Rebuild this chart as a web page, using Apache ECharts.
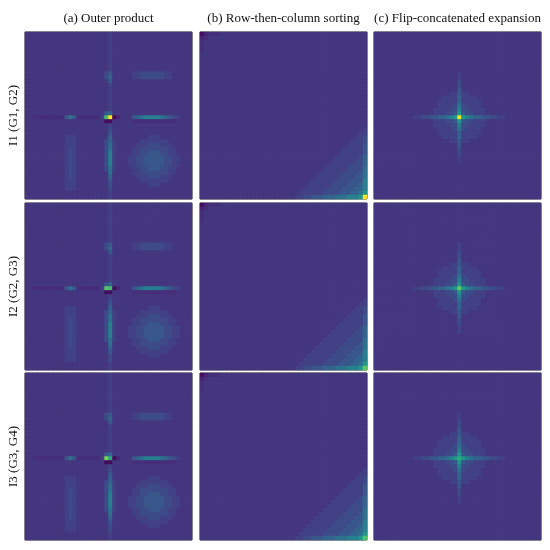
<!DOCTYPE html>
<html>
<head>
<meta charset="utf-8">
<script src="https://cdn.jsdelivr.net/npm/echarts@6/dist/echarts.min.js"></script>
<style>
  html, body { margin: 0; padding: 0; background: #fff; }
  #main { width: 550px; height: 550px; }
</style>
</head>
<body>
<div id="main"></div>
<script>
var columnTitles = ['(a) Outer product', '(b) Row-then-column sorting', '(c) Flip-concatenated expansion'];
var rowLabels = ['I1 (G1, G2)', 'I2 (G2, G3)', 'I3 (G3, G4)'];

// intensity code per cell (42 x 42, groups of 10 columns)
// '.' = background, P / Q = the bright peak cells that change from row to row
var levels = {'0': 0.03, '1': 0.10, ',': 0.13, '.': 0.155, '2': 0.19, '3': 0.23, '4': 0.27,
              '5': 0.32, '6': 0.37, '7': 0.43, '8': 0.52, '9': 0.62};

var outerMap = [
  ".......... .......... .2........ .......... ..",
  ".......... .......... .2........ .......... ..",
  ".......... .......... .2........ .......... ..",
  ".......... .......... .2........ .......... ..",
  ".......... .......... .2........ .......... ..",
  ".......... .......... .2........ .......... ..",
  ".......... .......... .2........ .......... ..",
  ".......... .......... .2........ .......... ..",
  ".......... .......... .2........ .......... ..",
  ".......... .......... .2........ .......... ..",
  ".......... .......... 34.....223 3333322... ..",
  ".......... .......... 35.....223 3333322... ..",
  ".......... .......... .4........ .......... ..",
  ".......... .......... .2........ .......... ..",
  ".......... .......... .2........ .......... ..",
  ".......... .......... .2........ .......... ..",
  ".......... .......... .2........ .......... ..",
  ".......... .......... .2........ .......... ..",
  ".......... .......... .2........ .......... ..",
  ".......... .......... .2........ .......... ..",
  ".......... .......... 45........ .......... ..",
  "..,,,,,,,, 464,,,,,,2 PQ01...456 777765432. ..",
  ".......... .......... 00.....,,, ,,,,,,,,.. ..",
  ".......... .......... .2........ .......... ..",
  ".......... .......... .3........ .......... ..",
  ".......... .......... .4........ .......... ..",
  ".......... 222....... .5........ .222...... ..",
  ".......... 222....... 352......2 222222.... ..",
  ".......... 222....... 362.....22 2333222... ..",
  ".......... 232....... 362....223 33333322.. ..",
  ".......... 232....... 372....223 34443322.. ..",
  ".......... 232....... 372...2233 444443322. ..",
  ".......... 232....... 372...2233 444443322. ..",
  ".......... 232....... 372...2233 444443322. ..",
  ".......... 232....... 362....223 34443322.. ..",
  ".......... 232....... .6.....223 33333322.. ..",
  ".......... 232....... .5......22 2333222... ..",
  ".......... 222....... .4.......2 222222.... ..",
  ".......... 222....... .3........ .222...... ..",
  ".......... 222....... .3........ .......... ..",
  ".......... .......... .2........ .......... ..",
  ".......... .......... .2........ .......... .."
];

var sortMap = [
  "01,,,..... .......... .......... .......... ..",
  "1,........ .......... .......... .......... ..",
  ",......... .......... .......... .......... ..",
  ",......... .......... .......... .......... ..",
  ",......... .......... .......... .......... ..",
  ".......... .......... .......... .......... ..",
  ".......... .......... .......... .......... ..",
  ".......... .......... .......... .......... ..",
  ".......... .......... .......... .......... ..",
  ".......... .......... .......... .......... ..",
  ".......... .......... .......... .......... ..",
  ".......... .......... .......... .......... ..",
  ".......... .......... .......... .......... ..",
  ".......... .......... .......... .......... ..",
  ".......... .......... .......... .......... ..",
  ".......... .......... .......... .......... ..",
  ".......... .......... .......... .......... ..",
  ".......... .......... .......... .......... ..",
  ".......... .......... .......... .......... ..",
  ".......... .......... .......... .......... ..",
  ".......... .......... .......... .......... ..",
  ".......... .......... .......... .......... ..",
  ".......... .......... .......... .......... ..",
  ".......... .......... .......... .......... ..",
  ".......... .......... .......... .......... .2",
  ".......... .......... .......... .......... 22",
  ".......... .......... .......... .........2 23",
  ".......... .......... .......... ........22 23",
  ".......... .......... .......... .......222 24",
  ".......... .......... .......... ......2222 24",
  ".......... .......... .......... .....22222 24",
  ".......... .......... .......... ....222222 35",
  ".......... .......... .......... ...2222223 35",
  ".......... .......... .......... ..22222233 35",
  ".......... .......... .......... .222222333 36",
  ".......... .......... .......... 2222223333 46",
  ".......... .......... .........2 2222233334 46",
  ".......... .......... ........22 2222333344 47",
  ".......... .......... .......222 2223333444 57",
  ".......... .......... ......2222 2233334445 57",
  ".......... .......... .....22222 2333344455 68",
  ".......... .......... ....223344 4555666777 8P"
];

var flipMap = [
  ".......... .......... .......... .......... ..",
  ".......... .......... .......... .......... ..",
  ".......... .......... .......... .......... ..",
  ".......... .......... .......... .......... ..",
  ".......... .......... .......... .......... ..",
  ".......... .......... .......... .......... ..",
  ".......... .......... .......... .......... ..",
  ".......... .......... .......... .......... ..",
  ".......... .......... .......... .......... ..",
  ".......... .......... .......... .......... ..",
  ".......... .......... .2........ .......... ..",
  ".......... .......... .2........ .......... ..",
  ".......... .......... .3........ .......... ..",
  ".......... .......... .3........ .......... ..",
  ".......... .......... .4........ .......... ..",
  ".......... .........2 2422...... .......... ..",
  ".......... .......222 252222.... .......... ..",
  ".......... ......2222 2522222... .......... ..",
  ".......... ......2222 3632222... .......... ..",
  ".......... .....22223 37332222.. .......... ..",
  ".......... .....22233 48433222.. .......... ..",
  ".......... 2233445567 8P87655443 322....... ..",
  ".......... .....22233 48433222.. .......... ..",
  ".......... .....22223 37332222.. .......... ..",
  ".......... ......2222 3632222... .......... ..",
  ".......... ......2222 2522222... .......... ..",
  ".......... .......222 252222.... .......... ..",
  ".......... .........2 2422...... .......... ..",
  ".......... .......... .4........ .......... ..",
  ".......... .......... .3........ .......... ..",
  ".......... .......... .3........ .......... ..",
  ".......... .......... .2........ .......... ..",
  ".......... .......... .2........ .......... ..",
  ".......... .......... .......... .......... ..",
  ".......... .......... .......... .......... ..",
  ".......... .......... .......... .......... ..",
  ".......... .......... .......... .......... ..",
  ".......... .......... .......... .......... ..",
  ".......... .......... .......... .......... ..",
  ".......... .......... .......... .......... ..",
  ".......... .......... .......... .......... ..",
  ".......... .......... .......... .......... .."
];

// peak cell values per row of panels [P, Q]
var outerPeaks = [[0.70, 1.0], [0.74, 0.70], [0.80, 0.62]];
var sortPeaks = [[1.0, 1.0], [0.75, 0.75], [0.72, 0.72]];
var flipPeaks = [[0.97, 0.97], [0.75, 0.75], [0.62, 0.62]];

var viridis = ['#440154', '#482475', '#414487', '#355f8d', '#2a788e', '#21918c',
               '#22a884', '#44bf70', '#7ad151', '#bddf26', '#fde725'];

var N = 42;
var panelLeft = [25, 200, 374];
var panelTop = [32, 203, 373];
var panelSize = 167;
var serif = '"Liberation Serif", "DejaVu Serif", serif';

function cells(map, peak) {
    var out = [];
    for (var r = 0; r < N; r++) {
        var row = map[r].replace(/ /g, '');
        for (var c = 0; c < N; c++) {
            var ch = row.charAt(c) || '.';
            var v;
            if (ch == 'P') v = peak[0];
            else if (ch == 'Q') v = peak[1];
            else v = levels[ch] !== undefined ? levels[ch] : levels['.'];
            out.push([c, r, v]);
        }
    }
    return out;
}

var cats = [];
for (var i = 0; i < N; i++) cats.push(i);

var maps = [outerMap, sortMap, flipMap];
var peaks = [outerPeaks, sortPeaks, flipPeaks];

var grids = [], xAxes = [], yAxes = [], series = [], texts = [];
for (var row = 0; row < 3; row++) {
    for (var col = 0; col < 3; col++) {
        var k = grids.length;
        grids.push({
            left: panelLeft[col], top: panelTop[row],
            width: panelSize, height: panelSize,
            show: true, borderColor: '#3a3a3a', borderWidth: 1,
            backgroundColor: '#463480'   // hides the hairline seams between cells
        });
        xAxes.push({ type: 'category', data: cats, gridIndex: k, show: false });
        yAxes.push({ type: 'category', data: cats, gridIndex: k, show: false, inverse: true });
        series.push({
            type: 'heatmap',
            xAxisIndex: k, yAxisIndex: k,
            data: cells(maps[col], peaks[col][row]),
            progressive: 0,
            itemStyle: { borderWidth: 0 },
            emphasis: { disabled: true }
        });
    }
}

for (var col = 0; col < 3; col++) {
    texts.push({
        type: 'text',
        x: panelLeft[col] + panelSize / 2, y: 19,
        style: { text: columnTitles[col], font: '13px ' + serif, fill: '#111',
                 textAlign: 'center', textVerticalAlign: 'middle' }
    });
}
for (var row = 0; row < 3; row++) {
    texts.push({
        type: 'text',
        x: 14, y: panelTop[row] + panelSize / 2,
        rotation: Math.PI / 2,
        style: { text: rowLabels[row], font: '13px ' + serif, fill: '#111',
                 textAlign: 'center', textVerticalAlign: 'middle' }
    });
}

var myChart = echarts.init(document.getElementById('main'), null, { renderer: 'canvas' });
myChart.setOption({
    animation: false,
    backgroundColor: '#ffffff',
    grid: grids,
    xAxis: xAxes,
    yAxis: yAxes,
    visualMap: {
        type: 'continuous', show: false, min: 0, max: 1,
        seriesIndex: series.map(function (s, i) { return i; }),
        inRange: { color: viridis }
    },
    series: series,
    graphic: texts
});
</script>
</body>
</html>
